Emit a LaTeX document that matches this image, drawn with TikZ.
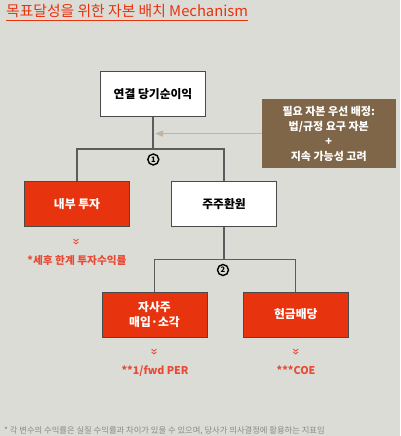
\documentclass[tikz,border=0pt]{standalone}
\usepackage{fontspec}
\setmainfont{Noto Sans CJK KR}
\usetikzlibrary{arrows.meta,calc}
\definecolor{bgc}{HTML}{DCDCD6}
\definecolor{redc}{HTML}{E8330F}
\definecolor{labc}{HTML}{E84A35}
\definecolor{brownc}{HTML}{806649}
\definecolor{edgec}{HTML}{4A4A4A}
\definecolor{arrc}{HTML}{C2B4A0}
\definecolor{notec}{HTML}{8A8A86}
\tikzset{
  boxw/.style={draw=edgec, line width=1bp, fill=white, minimum width=105bp, minimum height=45bp, inner sep=0pt, align=center, font=\fontsize{11.8bp}{14.5bp}\selectfont\bfseries, text=black},
  boxr/.style={boxw, fill=redc, text=white},
  conn/.style={draw=edgec!90, line width=1.3bp},
  lab/.style={text=labc, font=\fontsize{10.7bp}{12bp}\selectfont\bfseries, inner sep=0pt},
  num/.style={circle, draw=black, line width=1.4bp, minimum size=11bp, inner sep=0pt, font=\fontsize{7.5bp}{7.5bp}\selectfont\bfseries},
  chev/.pic={\draw[labc, line width=0.9bp] (-2.4,-2.6) -- (0,-0.6) -- (2.4,-2.6) (-2.4,0.2) -- (0,2.2) -- (2.4,0.2);}
}
\begin{document}
\begin{tikzpicture}[x=1bp,y=-1bp]
\useasboundingbox (0,0) rectangle (400,436);
\fill[bgc] (0,0) rectangle (400,436);
% title
\node[anchor=base west, inner sep=0pt, text=redc, font=\fontsize{14.8bp}{16bp}\selectfont] (title) at (6,17) {목표달성을 위한 자본 배치 Mechanism};
\draw[redc, line width=1.2bp] ([yshift=-3.7bp]title.base west) -- ([yshift=-3.7bp]title.base east);
% boxes
\node[boxw] (net) at (153,94) {연결 당기순이익};
\node[boxr] (inv) at (77,204.2) {내부 투자};
\node[boxw] (ret) at (224,204.2) {주주환원};
\node[boxr] (buy) at (154.5,314.5) {자사주\\매입·소각};
\node[boxr] (div) at (295.8,314.5) {현금배당};
\node[fill=brownc, minimum width=134bp, minimum height=69bp, inner sep=0pt, align=center, text=white, font=\fontsize{11bp}{15bp}\selectfont\bfseries] (cap) at (328.7,133.6) {필요 자본 우선 배정:\\법/규정 요구 자본\\+\\지속 가능성 고려};
% junctions
\coordinate (j1) at (153,149);
\coordinate (j2) at (224,259.3);
\coordinate (a1) at (155,133.6);
\draw[conn] (net.south) -- (j1);
\draw[conn] (inv.north) |- (j1) -| (ret.north);
\draw[conn] (ret.south) -- (j2);
\draw[conn] (buy.north) |- (j2) -| (div.north);
\draw[arrc, line width=1.2bp, -{Triangle[length=8bp,width=6bp]}] (cap.west) -- (a1);
\node[num] (n1) at (153.3,159.5) {1};
\node[num] (n2) at (223,270) {2};
% labels
\pic at (76,241.7) {chev};
\pic at (154,351.7) {chev};
\pic at (295.7,351.7) {chev};
\node[lab] (l1) at (77,260.7) {*세후 한계 투자수익률};
\node[lab] (l2) at (155,370.7) {**1/fwd PER};
\node[lab] (l3) at (296,370.7) {***COE};
\node[anchor=west, inner sep=0pt, text=notec, font=\fontsize{8.3bp}{10bp}\selectfont] (note) at (4,430.5) {* 각 변수의 수익률은 실질 수익률과 차이가 있을 수 있으며, 당사가 의사결정에 활용하는 지표임};
\end{tikzpicture}
\end{document}
